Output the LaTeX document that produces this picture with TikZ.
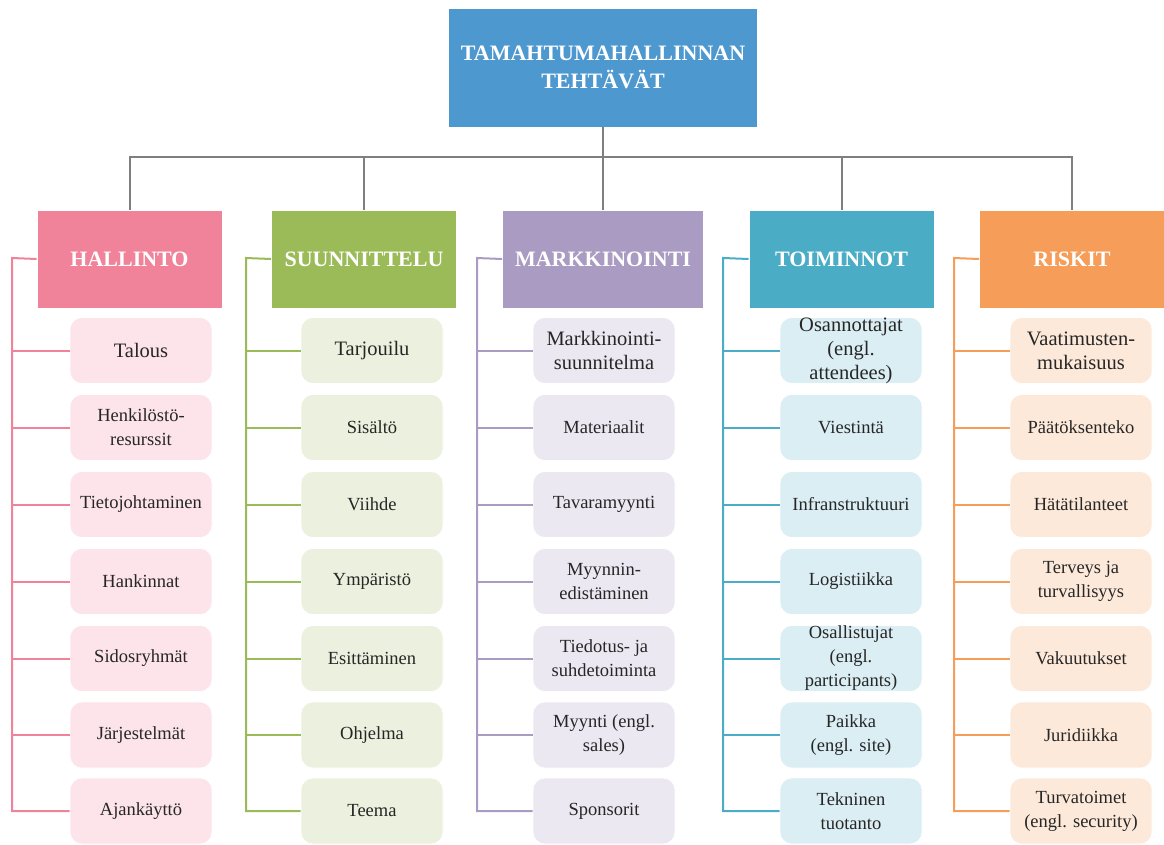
\documentclass[tikz,border=0pt]{standalone}
\usepackage{fontspec}
\setmainfont{Liberation Serif}
\definecolor{topc}{HTML}{4E98D0}
\definecolor{c1}{HTML}{F0839A}\definecolor{f1}{HTML}{FCE4EA}
\definecolor{c2}{HTML}{9BBB59}\definecolor{f2}{HTML}{EBF1DE}
\definecolor{c3}{HTML}{A99BC1}\definecolor{f3}{HTML}{ECE8F2}
\definecolor{c4}{HTML}{4BACC6}\definecolor{f4}{HTML}{DBEEF4}
\definecolor{c5}{HTML}{F79D5A}\definecolor{f5}{HTML}{FDE9D9}
\definecolor{gline}{HTML}{7F7F7F}
\newcommand\bigtxt{\fontsize{20.5}{24}\selectfont}
\begin{document}
\begin{tikzpicture}[x=1pt,y=-1pt,
  hdr/.style={rectangle, minimum width=185pt, minimum height=98pt, text=white,
    font=\fontsize{22}{28}\selectfont\bfseries, draw=white, line width=0.6pt,
    inner sep=0pt, align=center},
  kid/.style={rectangle, rounded corners=12pt, minimum width=142pt, minimum height=66pt,
    text=black!85, font=\fontsize{18.5}{24}\selectfont, draw=white, line width=0.6pt,
    align=center, inner sep=0pt},
  gl/.style={draw=gline, line width=2pt},
  br/.style={line width=2pt}]
\useasboundingbox (0,0) rectangle (1164,844);

% top node
\node[hdr, fill=topc, minimum width=309pt, minimum height=119pt] (top) at (603,67.5)
  {TAMAHTUMAHALLINNAN\\TEHTÄVÄT};
\coordinate (bus) at (603,157);

% headers
\node[hdr, fill=c1] (h1) at (129.5,259) {HALLINTO};
\node[hdr, fill=c2] (h2) at (364,259) {SUUNNITTELU};
\node[hdr, fill=c3, minimum width=201pt] (h3) at (603,259) {MARKKINOINTI};
\node[hdr, fill=c4] (h4) at (841.5,259) {TOIMINNOT};
\node[hdr, fill=c5] (h5) at (1072,259) {RISKIT};

\draw[gl] (top.south) -- (bus);
\foreach \h in {h1,h2,h3,h4,h5}{\draw[gl] (\h.north) |- (bus);}

% bracket anchors
\coordinate (b1) at (12,258);
\coordinate (b2) at (246,258);
\coordinate (b3) at (477,258);
\coordinate (b4) at (723,258);
\coordinate (b5) at (954,258);

% children
\foreach \i/\y/\t in {1/350.5/{\bigtxt Talous}, 2/427.5/{Henkilöstö-\\resurssit}, 3/504.5/Tietojohtaminen,
  4/581.5/Hankinnat, 5/658.5/Sidosryhmät, 6/735/Järjestelmät, 7/811/Ajankäyttö}
  {\node[kid, fill=f1] (k1-\i) at (141,\y) {\t};}
\foreach \i/\y/\t in {1/350.5/{\bigtxt Tarjouilu}, 2/427.5/Sisältö, 3/504.5/Viihde,
  4/581.5/Ympäristö, 5/658.5/Esittäminen, 6/735/Ohjelma, 7/811/Teema}
  {\node[kid, fill=f2] (k2-\i) at (372,\y) {\t};}
\foreach \i/\y/\t in {1/350.5/{\bigtxt Markkinointi-\\\bigtxt suunnitelma}, 2/427.5/Materiaalit, 3/504.5/Tavaramyynti,
  4/581.5/{Myynnin-\\edistäminen}, 5/658.5/{Tiedotus- ja\\suhdetoiminta}, 6/735/{Myynti (engl.\\sales)}, 7/811/Sponsorit}
  {\node[kid, fill=f3] (k3-\i) at (604,\y) {\t};}
\foreach \i/\y/\t in {1/350.5/{\bigtxt Osannottajat\\\bigtxt (engl.\\\bigtxt attendees)}, 2/427.5/Viestintä, 3/504.5/Infranstruktuuri,
  4/581.5/Logistiikka, 5/658.5/{Osallistujat\\(engl.\\participants)}, 6/735/{Paikka\\(engl. site)}, 7/811/{Tekninen\\tuotanto}}
  {\node[kid, fill=f4] (k4-\i) at (851,\y) {\t};}
\foreach \i/\y/\t in {1/350.5/{\bigtxt Vaatimusten-\\\bigtxt mukaisuus}, 2/427.5/Päätöksenteko, 3/504.5/Hätätilanteet,
  4/581.5/{Terveys ja\\turvallisyys}, 5/658.5/Vakuutukset, 6/735/Juridiikka, 7/811/{Turvatoimet\\(engl. security)}}
  {\node[kid, fill=f5] (k5-\i) at (1081,\y) {\t};}

% brackets
\foreach \c in {1,...,5}{
  \draw[br, draw=c\c] (h\c.west) -- (b\c) |- (k\c-7.west);
  \foreach \i in {1,...,6}{\draw[br, draw=c\c] (k\c-\i.west) -- (b\c |- k\c-\i.west);}
}
\end{tikzpicture}
\end{document}
